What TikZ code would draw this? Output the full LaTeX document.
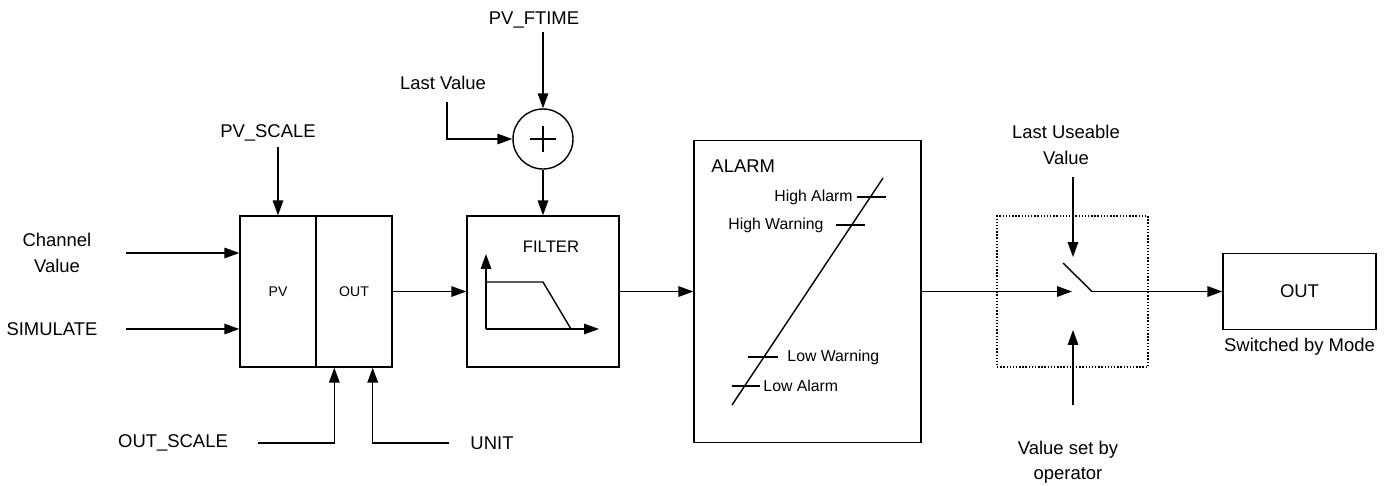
\documentclass[tikz,border=0pt]{standalone}
\usepackage{fontspec}
\setmainfont{Liberation Sans}
\usepackage{tikz}
\usetikzlibrary{arrows.meta,positioning,calc}
\tikzset{every node/.append style={scale=1}}
\tikzset{
  block/.style={draw, rectangle, line width=0.8pt, inner sep=0pt},
  lbl/.style={font=\fontsize{10.5}{14.5}\selectfont, align=center, inner sep=1pt},
  smalllbl/.style={font=\fontsize{9}{11}\selectfont, inner sep=1pt},
  tinylbl/.style={font=\fontsize{8}{10}\selectfont}
}

\begin{document}
\begin{tikzpicture}[x=0.02cm, y=-0.02cm, line width=0.8pt, >={Triangle[length=8.5pt,width=6pt]}]
      \useasboundingbox (0,0) rectangle (1387,485);

      \node[block, minimum width=1.52cm, minimum height=3.02cm, tinylbl] (pv) at (278,291.5) {PV};
      \node[block, minimum width=1.52cm, minimum height=3.02cm, tinylbl] (pvout) at (354,291.5) {OUT};
      \node[block, minimum width=3.04cm, minimum height=3.02cm] (filter) at (543,291.5) {};
      \node[lbl, font=\fontsize{9.5}{11}\selectfont] (filtertxt) at (551,247) {FILTER};
      \node[draw, circle, minimum size=1.2cm, inner sep=0pt] (sum) at (543,139) {};
      \node[block, minimum width=4.54cm, minimum height=6.04cm] (alarm) at (807.5,291.5) {};
      \node[lbl, anchor=west] (alarmtxt) at (709,166) {ALARM};
      \node[block, densely dotted, line width=0.6pt, minimum size=3.02cm] (swbox) at (1072.5,291.5) {};
      \node[block, minimum width=3.06cm, minimum height=1.52cm, lbl] (outbox) at (1299.5,291.5) {OUT};
      \node[lbl, below=3pt of outbox] (switched) {Switched by Mode};

      \node[lbl] (chan) at (57,253) {Channel\\Value};
      \node[lbl] (sim) at (52,329) {SIMULATE};
      \node[lbl] (pvscale) at (268,133) {PV\_SCALE};
      \node[lbl] (outscale) at (173,443) {OUT\_SCALE};
      \node[lbl] (unit) at (492,443) {UNIT};
      \node[lbl] (lastval) at (443,83) {Last Value};
      \node[lbl] (pvftime) at (534,20) {PV\_FTIME};
      \node[lbl] (lastuse) at (1066,145) {Last Useable\\Value};
      \node[lbl] (opval) at (1068,462) {Value set by\\operator};

      \coordinate (chanend) at (126,253);
      \coordinate (simend) at (126,329);
      \coordinate (pvsend) at (278,147);
      \coordinate (osend) at (258,443);
      \coordinate (unitend) at (449,443);
      \coordinate (lvend) at (447,102);
      \coordinate (pfend) at (543,32);
      \coordinate (swin) at (1072,291.5);
      \coordinate (swout) at (1092,291.5);
      \coordinate (luend) at (1073,177);
      \coordinate (lutip) at (1073,257);
      \coordinate (opend) at (1073,405);
      \coordinate (optip) at (1073,330);

      \draw[->] (chanend) -- (chanend -| pv.west);
      \draw[->] (simend) -- (simend -| pv.west);
      \draw[->] (pvsend) -- (pv.north);
      \draw[->] (osend) -| ([xshift=0.38cm]pvout.south west);
      \draw[->] (unitend) -| ([xshift=-0.4cm]pvout.south east);
      \draw[->] (pvout.east) -- (filter.west);
      \draw[->] (lvend) |- (sum.west);
      \draw[->] (pfend) -- (sum.north);
      \draw[->] (sum.south) -- (filter.north);
      \draw[->] (filter.east) -- (alarm.west);
      \draw[->] (alarm.east) -- (swin);
      \draw (1063,263) -- (swout);
      \draw[->] (swout) -- (outbox.west);
      \draw[->] (luend) -- (lutip);
      \draw[->] (opend) -- (optip);

      \draw[line width=1.3pt] ([xshift=-0.26cm]sum.center) -- ([xshift=0.26cm]sum.center);
      \draw[line width=1.3pt] ([yshift=-0.26cm]sum.center) -- ([yshift=0.26cm]sum.center);

      \draw[->] (486,329) -- (486,254);
      \draw[->] (486,329) -- (599,329);
      \draw (486,282) -- (543,282) -- (571,329);

      \draw (732,405) -- (883,178);
      \draw (857,197) -- (886,197);
      \draw (836,225) -- (865,225);
      \draw (748,357) -- (778,357);
      \draw (732,386) -- (760,386);
      \node[smalllbl, anchor=east] (hialarm) at (855,197) {High Alarm};
      \node[smalllbl, anchor=east] (hiwarn) at (826,225) {High Warning};
      \node[smalllbl, anchor=west] (lowarn) at (785,357) {Low Warning};
      \node[smalllbl, anchor=west] (loalarm) at (761,386) {Low Alarm};
    \end{tikzpicture}
\end{document}
